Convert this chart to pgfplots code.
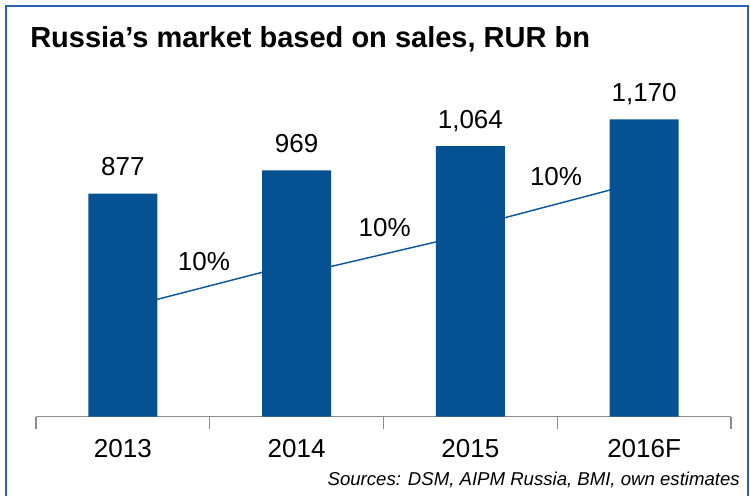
\documentclass[border=0pt]{standalone}
\usepackage{pgfplots}
\pgfplotsset{compat=1.18}
\usepackage{fontspec}
\setmainfont{Liberation Sans}
\definecolor{barblue}{RGB}{5,81,145}
\definecolor{lineblue}{RGB}{12,88,160}
\definecolor{frameblue}{RGB}{40,100,180}
\definecolor{axisgray}{RGB}{140,140,140}
\begin{document}
\begin{tikzpicture}
\path[use as bounding box] (0,0) rectangle (562.5pt,-372pt);
\begin{scope}[x=0.75pt,y=-0.75pt]
  \draw[frameblue, line width=1.1pt] (6,500) -- (6,6) -- (748,6) -- (748,500);
  \node[anchor=base west, inner sep=0pt, font=\fontsize{21.75}{26}\selectfont\bfseries] at (30,47.5) {Russia’s market based on sales, RUR bn};
  \node[anchor=base east, inner sep=0pt, font=\fontsize{13.95}{16}\selectfont\itshape] at (740,485) {Sources: DSM, AIPM Russia, BMI, own estimates};
\end{scope}
\begin{axis}[
  at={(27pt,-312.375pt)}, anchor=south west,
  width=521.25pt, height=228.6pt, scale only axis,
  xmin=-0.5, xmax=3.5, ymin=0, ymax=1200,
  axis x line*=bottom, axis y line=none,
  axis line style={axisgray, line width=1.2pt},
  xtick={0,1,2,3}, xticklabels={2013,2014,2015,2016F},
  major tick length=0pt,
  minor xtick={-0.5,0.5,1.5,2.5,3.5},
  minor tick length=9pt, tick align=outside,
  minor tick style={axisgray, line width=1.1pt},
  ytick=\empty,
  xticklabel style={anchor=base, yshift=-31.1pt, font=\fontsize{19.5}{22}\selectfont},
  clip=false,
]
\addplot[lineblue, line width=1.1pt, mark=none] coordinates {
  (0.1,444) (0.9,585) (1.1,575) (1.9,703) (2.1,765) (2.9,909)
};
\addplot[ybar, bar width=51.75pt, fill=barblue, draw=none,
  point meta=explicit symbolic, nodes near coords,
  nodes near coords style={anchor=base, yshift=13.5pt, text=black, font=\fontsize{19.5}{22}\selectfont}]
  coordinates {(0,877) [877] (1,969) [969] (2,1064) [{1,064}] (3,1170) [{1,170}]};
\node[anchor=base, font=\fontsize{19.5}{22}\selectfont] at (axis cs:0.467,574) {10\%};
\node[anchor=base, font=\fontsize{19.5}{22}\selectfont] at (axis cs:1.507,710) {10\%};
\node[anchor=base, font=\fontsize{19.5}{22}\selectfont] at (axis cs:2.493,909) {10\%};
\end{axis}
\end{tikzpicture}
\end{document}
